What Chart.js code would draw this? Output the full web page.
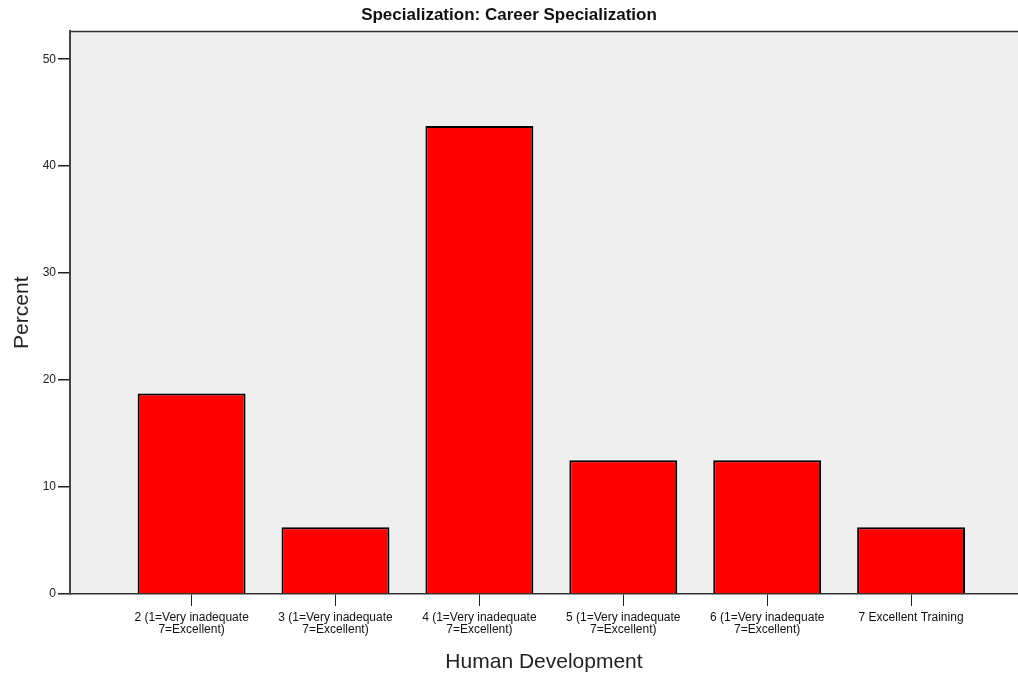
<!DOCTYPE html>
<html>
<head>
<meta charset="utf-8">
<script src="https://cdn.jsdelivr.net/npm/chart.js@4/dist/chart.umd.min.js"></script>
<style>
  html, body { margin: 0; padding: 0; background: #fff; }
  #wrap { width: 1018px; height: 683px; }
</style>
</head>
<body>
<div id="wrap"><canvas id="Chart1"></canvas></div>
<script>
var categories = [
  ["2 (1=Very inadequate", "7=Excellent)"],
  ["3 (1=Very inadequate", "7=Excellent)"],
  ["4 (1=Very inadequate", "7=Excellent)"],
  ["5 (1=Very inadequate", "7=Excellent)"],
  ["6 (1=Very inadequate", "7=Excellent)"],
  "7 Excellent Training"
];
var percents = [18.75, 6.25, 43.75, 12.5, 12.5, 6.25];
var yTicks = [0, 10, 20, 30, 40, 50];

var fontFam = "'Liberation Sans', Arial, sans-serif";

var plotBg = {
  id: 'plotBg',
  beforeDraw: function(chart) {
    var c = chart.ctx, a = chart.chartArea;
    c.save();
    c.fillStyle = '#efefef';
    c.fillRect(a.left, a.top, a.right - a.left, a.bottom - a.top);
    c.strokeStyle = '#333';
    c.lineWidth = 1.5;
    c.beginPath();
    c.moveTo(a.left, a.top);
    c.lineTo(a.right, a.top);
    c.stroke();
    c.restore();
  }
};

var ctx1 = document.getElementById("Chart1").getContext('2d');
var Chart1 = new Chart(ctx1, {
  type: 'bar',
  data: {
    datasets: [{
      data: percents.map(function(v, i) { return { x: i + 1, y: v }; }),
      backgroundColor: '#ff0000',
      borderColor: '#000',
      borderWidth: 2,
      barPercentage: 0.75,
      categoryPercentage: 1
    }]
  },
  options: {
    responsive: true,
    maintainAspectRatio: false,
    animation: false,
    layout: { padding: { left: 0, right: 0, top: 0, bottom: 0 } },
    plugins: {
      legend: { display: false },
      tooltip: { enabled: false },
      title: {
        display: true,
        text: 'Specialization: Career Specialization',
        color: '#111',
        font: { family: fontFam, size: 17, weight: 'bold' },
        padding: { top: 5, bottom: 6 }
      }
    },
    scales: {
      x: {
        type: 'linear',
        offset: false,
        min: 0.155,
        max: 6.743,
        afterBuildTicks: function(scale) {
          scale.ticks = categories.map(function(c, i) { return { value: i + 1 }; });
        },
        afterFit: function(scale) { scale.height = 89; },
        grid: { display: true, offset: false, drawOnChartArea: false, drawTicks: true, tickLength: 12, color: '#222', lineWidth: 1 },
        border: { display: true, color: '#333', width: 1.5 },
        ticks: {
          autoSkip: false,
          maxRotation: 0,
          minRotation: 0,
          padding: 5,
          color: '#111',
          font: { family: fontFam, size: 12, lineHeight: 1.05 },
          callback: function(v) { return categories[v - 1]; }
        },
        title: {
          display: true,
          text: 'Human Development',
          color: '#222',
          font: { family: fontFam, size: 21 },
          padding: { top: 4, bottom: 8 }
        }
      },
      y: {
        min: 0,
        max: 52.6,
        afterBuildTicks: function(scale) {
          scale.ticks = yTicks.map(function(v) { return { value: v }; });
        },
        afterFit: function(scale) { scale.width = 70; },
        grid: { display: true, drawOnChartArea: false, drawTicks: true, tickLength: 12, color: '#222', lineWidth: 1.5 },
        border: { display: true, color: '#444', width: 2 },
        ticks: {
          padding: 2,
          color: '#222',
          font: { family: fontFam, size: 12 }
        },
        title: {
          display: true,
          text: 'Percent',
          color: '#222',
          font: { family: fontFam, size: 21 },
          padding: { top: 10, bottom: 2 }
        }
      }
    }
  },
  plugins: [plotBg]
});
</script>
</body>
</html>
